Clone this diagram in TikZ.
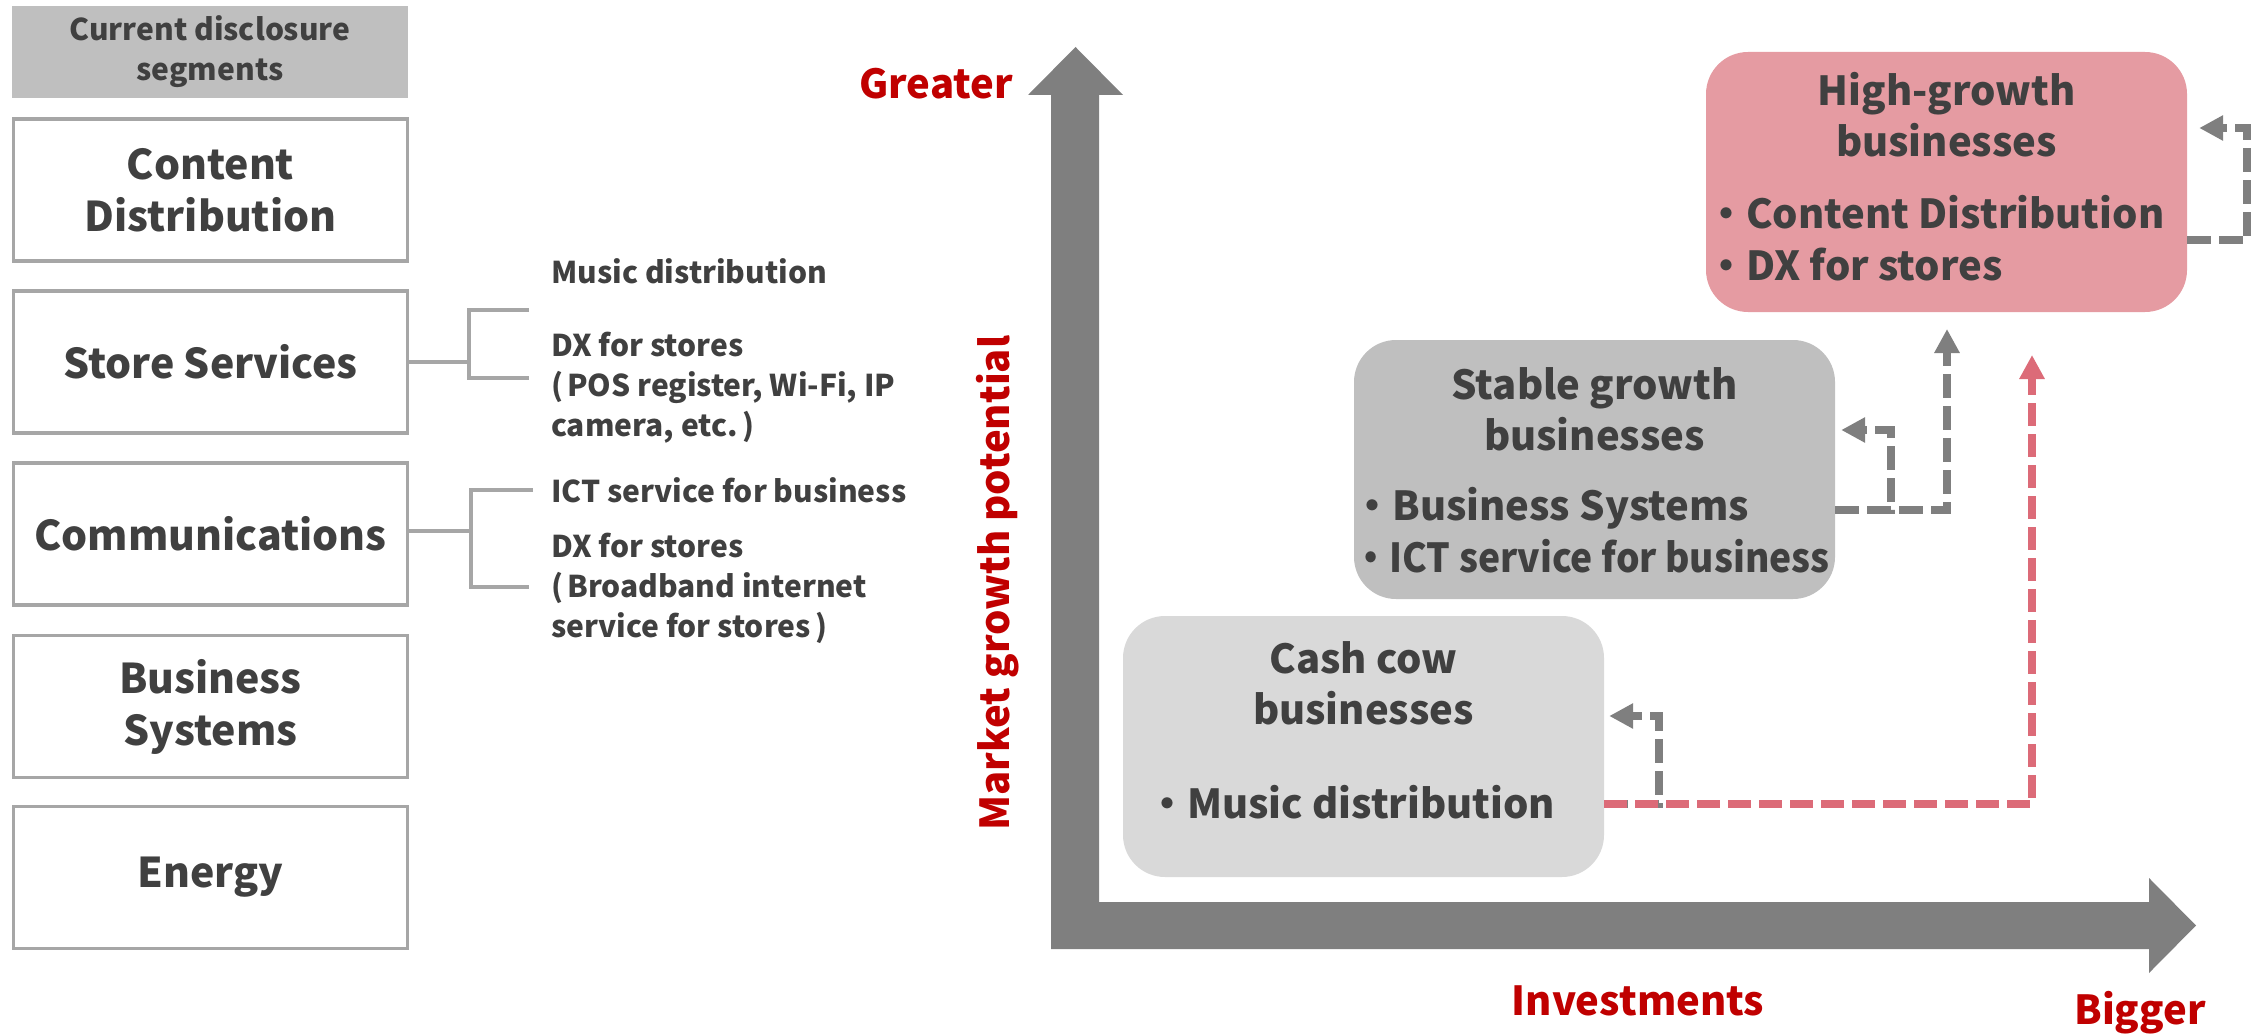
\documentclass[tikz,border=0pt]{standalone}
\usepackage{fontspec}
\setmainfont{Noto Sans CJK JP}
\usetikzlibrary{arrows.meta}
\definecolor{txt}{HTML}{404040}
\definecolor{segline}{HTML}{A6A6A6}
\definecolor{hdr}{HTML}{BFBFBF}
\definecolor{axisgray}{HTML}{7F7F7F}
\definecolor{lblred}{HTML}{C00000}
\definecolor{pinkbox}{HTML}{E59BA2}
\definecolor{stablebox}{HTML}{BFBFBF}
\definecolor{cashbox}{HTML}{D9D9D9}
\definecolor{reddash}{HTML}{DC6B78}
\definecolor{graydash}{HTML}{7F7F7F}
\newcommand{\opar}{(\kern4pt}
\newcommand{\cpar}{\kern5pt)}
\begin{document}
\begin{tikzpicture}[x=1pt,y=-1pt,
  segbox/.style={draw=segline, line width=3.3pt, minimum width=394pt, minimum height=142pt,
    inner sep=0pt, text=txt, align=center, font=\bfseries\fontsize{41}{52}\selectfont},
  hdrbox/.style={fill=hdr, minimum width=396pt, minimum height=92pt, inner sep=0pt,
    text=txt, align=center, font=\bfseries\fontsize{30}{40}\selectfont},
  smalltxt/.style={inner sep=0pt, text=txt, align=left, anchor=west,
    font=\bfseries\fontsize{30}{40}\selectfont},
  bracket/.style={draw=segline, line width=3.3pt},
  axislbl/.style={inner sep=0pt, text=lblred, font=\bfseries\fontsize{40}{48}\selectfont},
  bizbox/.style={rounded corners=42pt, minimum width=481pt, inner sep=0pt},
  btitle/.style={inner sep=0pt, text=txt, align=center, font=\bfseries\fontsize{40}{51}\selectfont},
  bitems/.style={inner sep=0pt, text=txt, align=left, anchor=west, font=\bfseries\fontsize{40}{52}\selectfont},
  gdash/.style={draw=graydash, line width=8pt, dash pattern=on 24pt off 8pt,
    -{Triangle[length=24pt,width=24pt]}},
  rdash/.style={draw=reddash, line width=8pt, dash pattern=on 23pt off 8pt,
    -{Triangle[length=24pt,width=24pt]}}
]
\useasboundingbox (0,0) rectangle (2258,1035);

% ---------- left column ----------
\node[hdrbox] (hdr) at (210,52) {Current disclosure\\segments};
\node[segbox] (cd) at (210.5,190) {Content\\Distribution};
\node[segbox] (ss) at (210.5,362) {Store Services};
\node[segbox] (cm) at (210.5,534) {Communications};
\node[segbox] (bs) at (210.5,706.5) {Business\\Systems};
\node[segbox] (en) at (210.5,877.5) {Energy};

\node[smalltxt] (md) at (551,271) {Music distribution};
\node[smalltxt] (dx1) at (551,388) {DX for stores\\\opar POS register, Wi-Fi, IP\\camera, etc.\cpar};
\node[smalltxt] (ict) at (551,490) {ICT service for business};
\node[smalltxt] (dx2) at (551,588) {DX for stores\\\opar Broadband internet\\service for stores\cpar};

\coordinate (sbm) at (469,362);
\coordinate (sbt) at (469,310);
\coordinate (sbb) at (469,378);
\coordinate (sbt2) at (529,310);
\coordinate (sbb2) at (529,378);
\draw[bracket] (ss.east) -- (sbm);
\draw[bracket] (sbt2) -- (sbt) -- (sbb) -- (sbb2);

\coordinate (cbm) at (471,531);
\coordinate (cbt) at (471,490);
\coordinate (cbb) at (471,587);
\coordinate (cbt2) at (533,490);
\coordinate (cbb2) at (529,587);
\draw[bracket] (cm.east |- cbm) -- (cbm);
\draw[bracket] (cbt2) -- (cbt) -- (cbb) -- (cbb2);

% ---------- axes ----------
\fill[axisgray] (1051,949) -- (1051,95) -- (1028,95) -- (1075.5,47) -- (1123,95) -- (1099,95)
  -- (1099,902) -- (2149,902) -- (2149,878) -- (2196,925.5) -- (2149,973) -- (2149,949) -- cycle;

\node[axislbl, anchor=east] (greater) at (1013,84) {Greater};
\node[axislbl, rotate=90] (mgp) at (998,583) {Market growth potential};
\node[axislbl] (inv) at (1638,1001) {Investments};
\node[axislbl] (bigger) at (2140,1013) {Bigger};

% ---------- business boxes ----------
\node[bizbox, fill=pinkbox, minimum height=260pt] (hg) at (1946.5,182) {};
\node[bizbox, fill=stablebox, minimum height=259pt] (sg) at (1594.5,469.5) {};
\node[bizbox, fill=cashbox, minimum height=261pt] (cc) at (1363.5,746.5) {};

\node[btitle] (hgT) at (1946.5,115) {High-growth\\businesses};
\node[bitems] (hgI) at (1706,238) {・Content Distribution\\・DX for stores};
\node[btitle] (sgT) at (1594.5,409) {Stable growth\\businesses};
\node[bitems] (sgI) at (1352,530) {・Business Systems\\{\addfontfeature{FakeStretch=0.93}・ICT service for business}};
\node[btitle] (ccT) at (1363.5,683) {Cash cow\\businesses};
\node[bitems] (ccI) at (1147,802) {・Music distribution};

% ---------- dashed arrows ----------
\coordinate (c1) at (1659,804);
\coordinate (c2) at (1659,716);
\coordinate (r1) at (2032,804);
\coordinate (r2) at (2032,355);
\draw[gdash, shorten >=5pt] (cc.east |- c1) -- (c1) -- (c2) -- (cc.east |- c2);
\draw[rdash] (cc.east |- r1) -- (r1) -- (r2);

\coordinate (s1) at (1891,510);
\coordinate (s2) at (1891,430);
\coordinate (s3) at (1947,510);
\coordinate (s4) at (1947,329);
\draw[gdash, shorten >=6pt] (sg.east |- s1) -- (s1) -- (s2) -- (sg.east |- s2);
\draw[gdash] (sg.east |- s1) -- (s3) -- (s4);

\coordinate (h1) at (2247,240);
\coordinate (h2) at (2247,128);
\draw[gdash, shorten >=12pt] (hg.east |- h1) -- (h1) -- (h2) -- (hg.east |- h2);
\end{tikzpicture}
\end{document}
